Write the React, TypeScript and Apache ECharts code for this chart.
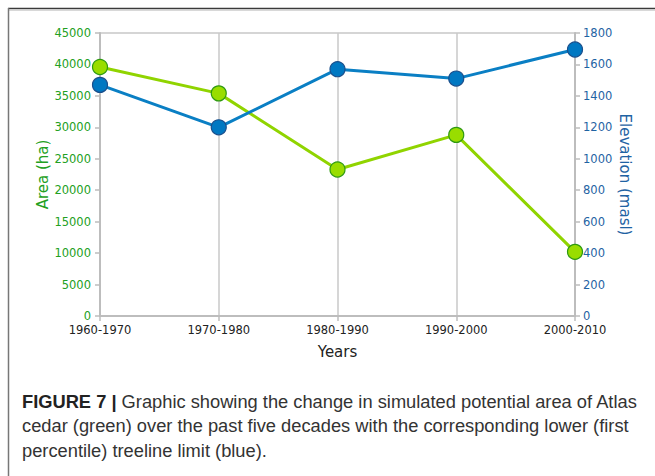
import React, { useEffect, useRef } from "react";
import * as echarts from "echarts";

const categories = ["1960-1970", "1970-1980", "1980-1990", "1990-2000", "2000-2010"];
const areaValues = [39600, 35400, 23300, 28800, 10200];
const elevationValues = [1470, 1200, 1570, 1510, 1695];

const FONT = "DejaVu Sans";

export default function App() {
  const ref = useRef<HTMLDivElement>(null);
  useEffect(() => {
    const chart = echarts.init(ref.current!, null, { renderer: "svg" });
    chart.setOption({
      animation: false,
      backgroundColor: "#fff",
      grid: {
        left: 100,
        right: 80,
        top: 33,
        bottom: 160,
        show: true,
        borderColor: "#c8c8c8",
        borderWidth: 1.5,
      },
      xAxis: {
        type: "category",
        data: categories,
        boundaryGap: false,
        name: "Years",
        nameLocation: "middle",
        nameGap: 28,
        nameTextStyle: { fontFamily: FONT, fontSize: 15, color: "#222" },
        axisLine: { lineStyle: { color: "#bdbdbd", width: 2 } },
        axisTick: { show: true, length: 5, lineStyle: { color: "#bdbdbd", width: 1.5 } },
        axisLabel: { fontFamily: FONT, fontSize: 11.5, color: "#222", margin: 8 },
        splitLine: { show: true, lineStyle: { color: "#c8c8c8", width: 1.5 } },
      },
      yAxis: [
        {
          type: "value",
          min: 0,
          max: 45000,
          interval: 5000,
          name: "Area (ha)",
          nameLocation: "middle",
          nameGap: 50,
          nameMoveOverlap: false,
          nameTextStyle: { fontFamily: FONT, fontSize: 15, color: "#22a022" },
          axisLine: { show: true, lineStyle: { color: "#bdbdbd", width: 2 } },
          axisTick: { show: true, length: 5, lineStyle: { color: "#bdbdbd", width: 1.5 } },
          axisLabel: { fontFamily: FONT, fontSize: 11.5, color: "#22a022", margin: 9, formatter: (v: number) => String(v) },
          splitLine: { show: false },
        },
        {
          type: "value",
          min: 0,
          max: 1800,
          interval: 200,
          position: "right",
          name: "Elevation (masl)",
          nameLocation: "middle",
          nameGap: 42,
          nameMoveOverlap: false,
          nameRotate: -90,
          nameTextStyle: { fontFamily: FONT, fontSize: 15, color: "#1f63a3" },
          axisLine: { show: true, lineStyle: { color: "#bdbdbd", width: 2 } },
          axisTick: { show: true, length: 5, lineStyle: { color: "#bdbdbd", width: 1.5 } },
          axisLabel: { fontFamily: FONT, fontSize: 11.5, color: "#1f63a3", margin: 8, formatter: (v: number) => String(v) },
          splitLine: { show: false },
        },
      ],
      series: [
        {
          type: "line",
          name: "Area",
          yAxisIndex: 0,
          data: areaValues,
          symbol: "circle",
          symbolSize: 15,
          lineStyle: { color: "#90d400", width: 3 },
          itemStyle: { color: "#99dd00", borderColor: "#2f9a10", borderWidth: 1.2 },
          z: 3,
        },
        {
          type: "line",
          name: "Elevation",
          yAxisIndex: 1,
          data: elevationValues,
          symbol: "circle",
          symbolSize: 15,
          lineStyle: { color: "#0a7fc4", width: 3 },
          itemStyle: { color: "#0078c2", borderColor: "#1a4f8c", borderWidth: 1.2 },
          z: 4,
        },
      ],
      graphic: [
        { type: "line", shape: { x1: 8, y1: 8.5, x2: 655, y2: 8.5 }, style: { stroke: "#3a3a3a", lineWidth: 1.5 } },
        { type: "line", shape: { x1: 8, y1: 10.5, x2: 655, y2: 10.5 }, style: { stroke: "#d8d8d8", lineWidth: 1 } },
        { type: "line", shape: { x1: 8.5, y1: 8, x2: 8.5, y2: 476 }, style: { stroke: "#777", lineWidth: 1.5 } },
        {
          type: "text",
          left: 22,
          top: 389,
          style: {
            text: "{b|FIGURE 7 |} Graphic showing the change in simulated potential area of Atlas\ncedar (green) over the past five decades with the corresponding lower (first\npercentile) treeline limit (blue).",
            fontFamily: "Liberation Sans",
            fontSize: 18.3,
            lineHeight: 24.5,
            fill: "#333",
            rich: {
              b: { fontFamily: "Liberation Sans", fontWeight: "bold", fontSize: 18.3, lineHeight: 24.5, fill: "#222" },
            },
          },
        },
      ],
    });
    return () => chart.dispose();
  }, []);
  return <div ref={ref} style={{ position: "fixed", left: 0, top: 0, width: 655, height: 476 }} />;
}
